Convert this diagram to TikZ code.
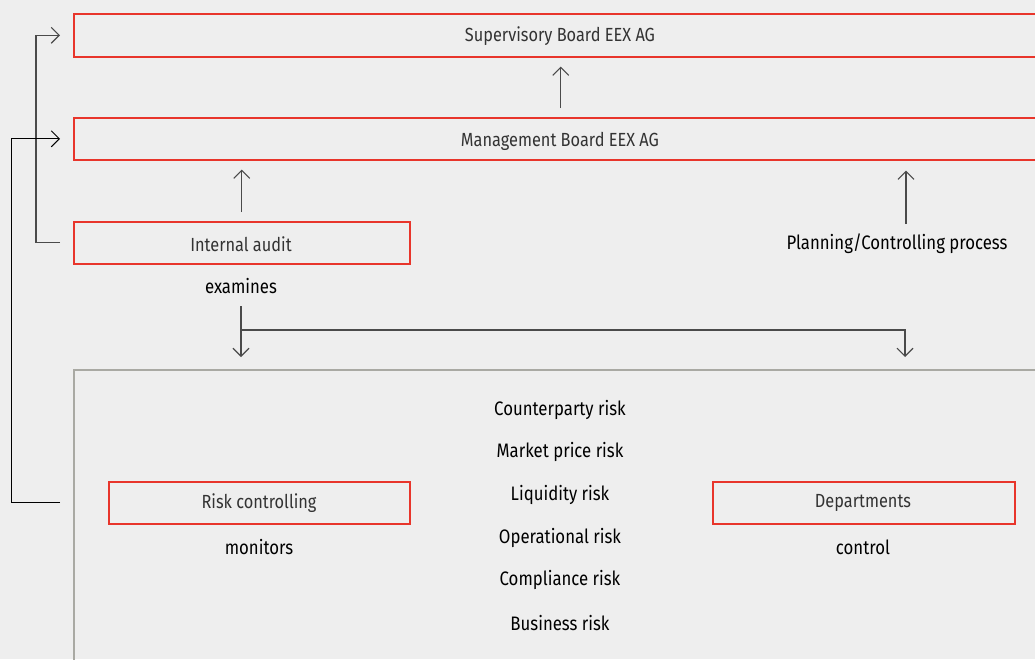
\documentclass[tikz,border=0pt]{standalone}
\usepackage{fontspec}
\setmainfont{Fira Sans}[FakeStretch=0.86]
\usetikzlibrary{arrows.meta}
\definecolor{bg}{HTML}{EEEEEE}
\definecolor{redline}{HTML}{E8352B}
\definecolor{grayline}{HTML}{A9A9A3}
\definecolor{connline}{HTML}{4A4A4A}
\definecolor{boxtextcol}{HTML}{333333}
\begin{document}
\begin{tikzpicture}[x=1pt,y=-1pt,
  redbox/.style={draw=redline, line width=1.6pt, inner sep=0pt, anchor=north west},
  boxtext/.style={font=\fontsize{19}{21}\selectfont, text=boxtextcol, inner sep=0pt},
  lbl/.style={font=\fontsize{19.5}{21}\selectfont, text=black, inner sep=0pt},
  conn/.style={draw=connline, line width=1.1pt, -{Straight Barb[length=8pt,width=16pt]}},
]
\useasboundingbox (0,0) rectangle (1035,659);
\clip (0,0) rectangle (1035,659);
\fill[bg] (0,0) rectangle (1035,659);

% boxes
\node[redbox, minimum width=974pt, minimum height=43pt] (sup) at (73,13) {};
\node[redbox, minimum width=974pt, minimum height=42pt] (mgmt) at (73,117) {};
\node[redbox, minimum width=336pt, minimum height=42pt] (audit) at (73,221) {};
\node[draw=grayline, line width=2pt, inner sep=0pt, anchor=north west, minimum width=980pt, minimum height=310pt] (risk) at (73,369) {};
\node[redbox, minimum width=301pt, minimum height=42pt] (rc) at (108,481) {};
\node[redbox, minimum width=302pt, minimum height=42pt] (dept) at (712,481) {};

% box texts
\node[boxtext] (tsup) at (560,36) {Supervisory Board EEX AG};
\node[boxtext] (tmgmt) at (560,141) {Management Board EEX AG};
\node[boxtext] (taudit) at (241,244) {Internal audit};
\node[boxtext] (trc) at (259,503) {Risk controlling};
\node[boxtext] (tdept) at (863,503) {Departments};

% labels
\node[lbl] (exam) at (241,286) {examines};
\node[lbl] (plan) at (897,244) {Planning/Controlling process};
\node[lbl] (mon) at (259,547) {monitors};
\node[lbl] (ctl) at (863,547) {control};
\node[lbl] (r1) at (560,410) {Counterparty risk};
\node[lbl] (r2) at (560,452) {Market price risk};
\node[lbl] (r3) at (560,495) {Liquidity risk};
\node[lbl] (r4) at (560,538) {Operational risk};
\node[lbl] (r5) at (560,580) {Compliance risk};
\node[lbl] (r6) at (560,623) {Business risk};

% connectors
\draw[conn] ([yshift=9pt]mgmt.north) -- ([yshift=-9pt]sup.south);
\draw[conn] ([yshift=9pt]audit.north) -- ([yshift=-9pt]audit.north |- mgmt.south);
\coordinate (pl) at (906,224);
\draw[conn] (pl) -- ([yshift=-10pt]pl |- mgmt.south);
\coordinate (ex) at (241,306);
\draw[conn] (ex) -- ([yshift=12pt]ex |- risk.north);
\coordinate (br) at (241,330);
\coordinate (dp) at (905,357);
\draw[conn] (br) -| (dp);
\draw[conn] ([xshift=-13pt]audit.west) -- ++(-24,0) |- ([xshift=-13pt]sup.west);
\coordinate (rcl) at (60,502);
\draw[conn, draw=black, line width=1pt] (rcl) -- ++(-49,0) |- ([xshift=-13pt]mgmt.west);
\end{tikzpicture}
\end{document}
